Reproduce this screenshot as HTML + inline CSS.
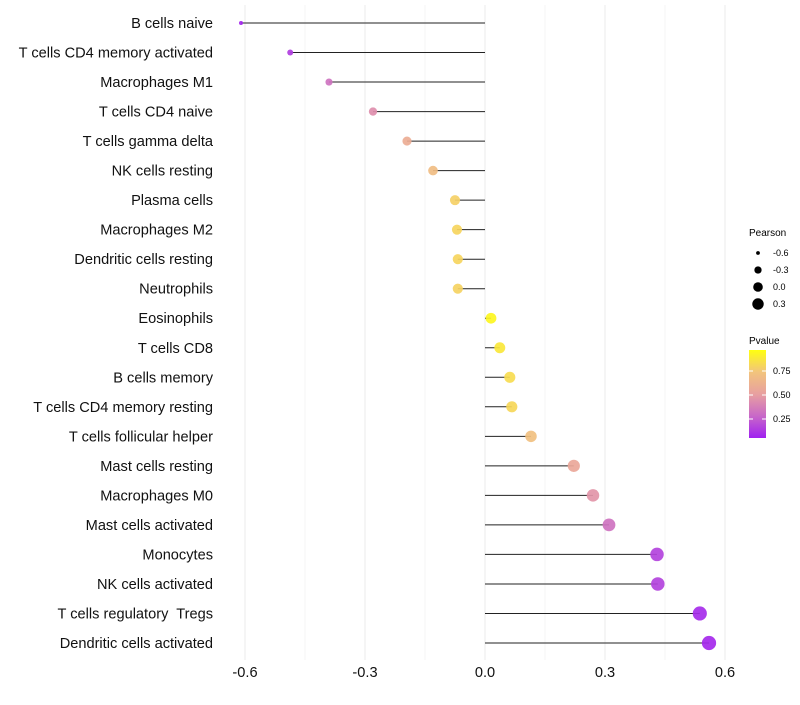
<!DOCTYPE html>
<html><head><meta charset="utf-8"><style>body{margin:0;background:#fff;font-family:"Liberation Sans",sans-serif}text{white-space:pre}</style></head>
<body>
<svg id="chart" width="800" height="700" xmlns="http://www.w3.org/2000/svg" font-family="Liberation Sans, sans-serif">
<defs><linearGradient id="pg" x1="0" y1="1" x2="0" y2="0">
<stop offset="0" stop-color="#a020f0"/><stop offset="0.25" stop-color="#c868c8"/><stop offset="0.5" stop-color="#e8a0a0"/><stop offset="0.75" stop-color="#f2c47c"/><stop offset="1" stop-color="#ffff10"/></linearGradient></defs>
<g id="grid"></g>
<g id="marks"></g>
<g id="ylabels"></g>
<g id="xlabels"></g>
<g font-size="9" fill="#000">
<text x="749" y="236" font-size="10">Pearson</text>
<g id="sizeleg"></g>
</g>
<g font-size="9">
<text x="749" y="344" font-size="10">Pvalue</text>
<rect x="749" y="350" width="17" height="88" fill="url(#pg)"/>
<text x="773" y="374">0.75</text><text x="773" y="398">0.50</text><text x="773" y="422">0.25</text>
<line x1="749" x2="753" y1="371" y2="371" stroke="#fff"/><line x1="762" x2="766" y1="371" y2="371" stroke="#fff"/>
<line x1="749" x2="753" y1="395" y2="395" stroke="#fff"/><line x1="762" x2="766" y1="395" y2="395" stroke="#fff"/>
<line x1="749" x2="753" y1="419" y2="419" stroke="#fff"/><line x1="762" x2="766" y1="419" y2="419" stroke="#fff"/>
</g>
</svg>
<script>
const cells=["B cells naive","T cells CD4 memory activated","Macrophages M1","T cells CD4 naive","T cells gamma delta","NK cells resting","Plasma cells","Macrophages M2","Dendritic cells resting","Neutrophils","Eosinophils","T cells CD8","B cells memory","T cells CD4 memory resting","T cells follicular helper","Mast cells resting","Macrophages M0","Mast cells activated","Monocytes","NK cells activated","T cells regulatory  Tregs","Dendritic cells activated"];
const pearson=[-0.61,-0.487,-0.39,-0.28,-0.195,-0.13,-0.075,-0.07,-0.068,-0.068,0.015,0.037,0.062,0.067,0.115,0.222,0.27,0.31,0.43,0.432,0.537,0.56];
const pvalue=[0.02,0.1,0.3,0.42,0.58,0.7,0.8,0.82,0.82,0.81,0.96,0.9,0.85,0.83,0.72,0.55,0.45,0.3,0.12,0.12,0.04,0.03];
const xticks=[-0.6,-0.3,0.0,0.3,0.6];
const sizeLegend=[-0.6,-0.3,0.0,0.3];
const NS="http://www.w3.org/2000/svg";
const x=v=>485+v*400, y=i=>23+i*(620/21), r=v=>Math.sqrt(Math.max(1,4+(v+0.61)*40));
const stops=[[0,[160,32,240]],[0.25,[200,104,200]],[0.5,[232,160,160]],[0.75,[242,196,124]],[1,[255,255,16]]];
function col(p){for(let k=1;k<stops.length;k++){if(p<=stops[k][0]){const a=stops[k-1],b=stops[k],t=(p-a[0])/(b[0]-a[0]);return "rgb("+a[1].map((c,j)=>Math.round(c+(b[1][j]-c)*t)).join(",")+")";}}return "rgb(255,255,16)";}
function mk(t,a,parent){const e=document.createElementNS(NS,t);for(const k in a)e.setAttribute(k,a[k]);parent.appendChild(e);return e;}
const g=document.getElementById('grid'),m=document.getElementById('marks'),yl=document.getElementById('ylabels'),xl=document.getElementById('xlabels');
for(let k=-4;k<=4;k++){const v=k*0.15;const major=k%2===0;const l=mk('line',{x1:x(v),x2:x(v),y1:5,y2:660,stroke:major?'#ebebeb':'#f4f4f4','stroke-width':major?1:0.8},g);

}
cells.forEach((c,i)=>{
const ln=mk('line',{x1:x(0),x2:x(pearson[i]),y1:y(i),y2:y(i),stroke:'#222','stroke-width':1},m);


const ci=mk('circle',{cx:x(pearson[i]),cy:y(i),r:r(pearson[i]),fill:col(pvalue[i]),'fill-opacity':0.92},m);


const t=mk('text',{x:213,y:y(i)+5,'text-anchor':'end','font-size':14.6,fill:'#111'},yl);t.textContent=c;


});
xticks.forEach(v=>{const t=mk('text',{x:x(v),y:677,'text-anchor':'middle','font-size':14.6,fill:'#111'},xl);t.textContent=v.toFixed(1);

});
const sl=document.getElementById('sizeleg');
sizeLegend.forEach((v,i)=>{const cy=253+i*17;
const c=mk('circle',{cx:758,cy:cy,r:r(v)*0.9,fill:'#000'},sl);


const t=mk('text',{x:773,y:cy+3},sl);t.textContent=v.toFixed(1);

});
</script>
</body></html>
